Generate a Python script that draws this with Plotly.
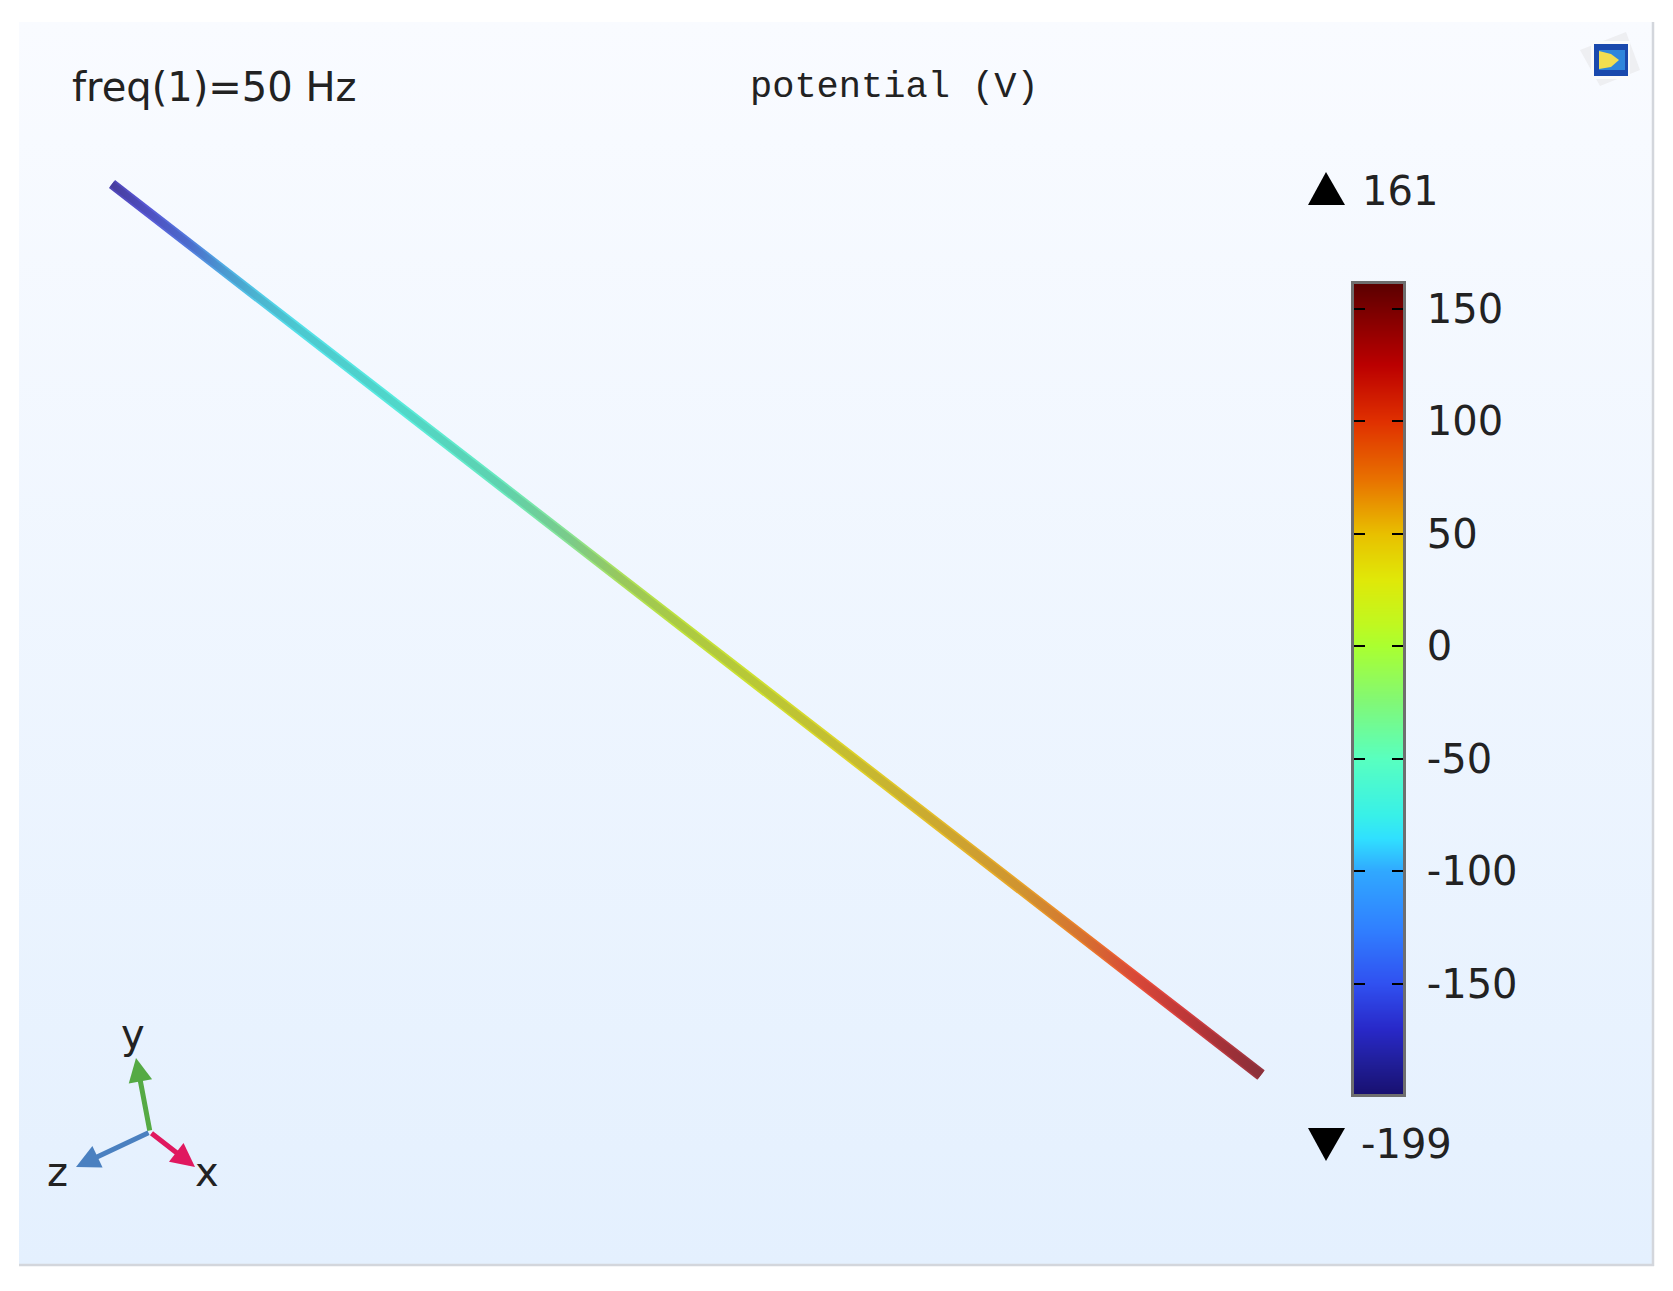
"""
plot.py - potential along a wire, freq(1)=50 Hz, drawn in a pixel-sized frame.
"""

import plotly.colors as pc
import plotly.graph_objects as go

# ---------------------------------------------------------------------------
# Data
# ---------------------------------------------------------------------------
V_MIN = -199
V_MAX = 161

WIRE_X = [112, 1261]
WIRE_Y = [184, 1075]

# potential along the wire, by horizontal position
STATION_X = [112, 150, 190, 225, 260, 300, 400, 500, 570, 620, 680, 760, 850, 950, 1020, 1080, 1133, 1180, 1230, 1261]
STATION_V = [-199, -172, -150, -120, -100, -85, -62, -40, -22, -5, 8, 22, 38, 55, 68, 85, 110, 130, 150, 161]

BAR_LEVELS = [-199, -185, -170, -150, -125, -100, -85, -75, -50, -25, 0, 10, 30, 50, 75, 100, 125, 150, 161]
BAR_COLORS = ["#181070", "#201e98", "#2828c8", "#3050f0", "#3080ff", "#30a8ff", "#30e0ff", "#38f0e8",
              "#58ffc0", "#80f878", "#aaff30", "#c0f820", "#e0e808", "#e8c000", "#e87000", "#e03000",
              "#bb0000", "#7a0000", "#5c0000"]

# the wire is lit, so it shows duller colours than the bar
LIT_LEVELS = [-199, -170, -140, -110, -85, -60, -35, -15, 0, 15, 35, 50, 70, 90, 110, 130, 150, 161]
LIT_CORE = ["#473c9c", "#5050c4", "#4a78d0", "#4aa8d0", "#4cc8d0", "#50d8c8", "#62d0a8", "#88c878", "#a0c850",
            "#b4cc38", "#c4c030", "#ccac30", "#d09030", "#d86830", "#d84838", "#c03838", "#9c3038", "#88303a"]
LIT_EDGE = ["#4e44b4", "#5a5ad8", "#5088e0", "#50bce4", "#54e0e8", "#58ecdc", "#6ce8b8", "#98e080", "#b4e048",
            "#c8e430", "#dcd828", "#e4c028", "#e8a028", "#ec7428", "#ec5038", "#d84040", "#b03840", "#943440"]

TICK_VALUES = [-150, -100, -50, 0, 50, 100, 150]
TICK_LABELS = ["-150", "-100", "-50", "0", "50", "100", "150"]

FONT = "DejaVu Sans"
INK = "#222222"
W, H = 1673, 1291


def scale_from(levels, colors):
    return [[(v - V_MIN) / (V_MAX - V_MIN), c] for v, c in zip(levels, colors)]


def wire_trace(half_start, half_end, scale):
    """Thin strip along the wire, filled with a gradient that follows the potential."""
    dx = WIRE_X[1] - WIRE_X[0]
    dy = WIRE_Y[1] - WIRE_Y[0]
    length = (dx ** 2 + dy ** 2) ** 0.5
    nx, ny = -dy / length, dx / length
    xs = [WIRE_X[0] + nx * half_start, WIRE_X[1] + nx * half_end,
          WIRE_X[1] - nx * half_end, WIRE_X[0] - nx * half_start]
    ys = [WIRE_Y[0] + ny * half_start, WIRE_Y[1] + ny * half_end,
          WIRE_Y[1] - ny * half_end, WIRE_Y[0] - ny * half_start]

    span = STATION_X[-1] - STATION_X[0]
    stops = []
    for x, v in zip(STATION_X, STATION_V):
        frac = (x - STATION_X[0]) / span
        color = pc.sample_colorscale(scale, (v - V_MIN) / (V_MAX - V_MIN))[0]
        stops.append([frac, color])

    return go.Scatter(
        x=xs + xs[:1], y=ys + ys[:1], mode="lines", fill="toself",
        line=dict(width=0), showlegend=False, hoverinfo="skip",
        fillgradient=dict(type="horizontal", colorscale=stops),
    )


def label(x, y, text, size=40, anchor="left", family=FONT):
    return dict(x=x, y=y, xref="x", yref="y", text=text, showarrow=False, xanchor=anchor, yanchor="middle",
                font=dict(family=family, size=size, color=INK))


def triad_arrow(x, y, color):
    return dict(x=x, y=y, ax=150, ay=1132, xref="x", yref="y", axref="x", ayref="y", text="", showarrow=True,
                arrowhead=2, arrowsize=0.95, arrowwidth=5, arrowcolor=color, standoff=0, startstandoff=0)


def corner_icon():
    shapes = [
        dict(type="path", path="M1580,50 L1626,32 L1640,70 L1600,86 Z", fillcolor="#eeeff2", line_width=0),
        dict(type="rect", x0=1591, x1=1630, y0=41, y1=79, fillcolor="#fbfbfb", line_width=0),
        dict(type="rect", x0=1594, x1=1628, y0=44, y1=76, fillcolor="#1a49ad", line_width=0),
        dict(type="rect", x0=1599, x1=1625, y0=50, y1=70, fillcolor="#2f86dc", line_width=0),
        dict(type="path", path="M1599,51 L1611,54 L1619,60 L1611,67 L1599,69 Z", fillcolor="#f2de50", line_width=0),
    ]
    return [dict(s, xref="x", yref="y") for s in shapes]


def build_figure():
    fig = go.Figure()

    # panel background, pale blue getting stronger towards the bottom
    fig.add_trace(go.Scatter(
        x=[19, 1653, 1653, 19, 19], y=[22, 22, 1265, 1265, 22], mode="lines", fill="toself",
        line=dict(width=0), showlegend=False, hoverinfo="skip",
        fillgradient=dict(type="vertical", colorscale=[[0, "#e4f0fe"], [1, "#f9fbff"]]),
    ))

    fig.add_trace(wire_trace(5.0, 6.0, scale_from(LIT_LEVELS, LIT_EDGE)))
    fig.add_trace(wire_trace(3.2, 4.4, scale_from(LIT_LEVELS, LIT_CORE)))

    # colour bar
    fig.add_trace(go.Heatmap(
        x=[0, 1], y=BAR_LEVELS, z=[[v, v] for v in BAR_LEVELS],
        zmin=V_MIN, zmax=V_MAX, zsmooth="best",
        colorscale=scale_from(BAR_LEVELS, BAR_COLORS),
        showscale=False, hoverinfo="skip", xaxis="x2", yaxis="y2",
    ))

    shapes = [
        dict(type="line", x0=1653, x1=1653, y0=22, y1=1266, xref="x", yref="y", line=dict(color="#d3d6dc", width=2.5)),
        dict(type="line", x0=19, x1=1654, y0=1265, y1=1265, xref="x", yref="y", line=dict(color="#d3d6dc", width=2.5)),
        dict(type="path", path="M1308,205 L1345,205 L1326,172 Z", xref="x", yref="y", fillcolor="black", line_width=0),
        dict(type="path", path="M1308,1128 L1345,1128 L1326,1161 Z", xref="x", yref="y", fillcolor="black", line_width=0),
    ] + corner_icon()

    annotations = [
        label(70, 87, "freq(1)=50 Hz", size=40),
        label(748, 87, "potential (V)", size=37, family="Liberation Mono"),
        label(1360, 191, "161"),
        label(1359, 1144, "-199"),
        triad_arrow(136, 1058, "#55aa44"),
        triad_arrow(195, 1167, "#e0185f"),
        triad_arrow(76, 1167, "#4a80c0"),
        label(133, 1034, "y", anchor="center"),
        label(207, 1172, "x", anchor="center"),
        label(57, 1172, "z", anchor="center"),
    ]

    fig.update_layout(
        width=W, height=H, margin=dict(l=0, r=0, t=0, b=0),
        paper_bgcolor="white", plot_bgcolor="white", showlegend=False,
        font=dict(family=FONT, color=INK),
        xaxis=dict(range=[0, W], domain=[0, 1], visible=False, fixedrange=True),
        yaxis=dict(range=[H, 0], domain=[0, 1], visible=False, fixedrange=True),
        xaxis2=dict(
            range=[0, 1], domain=[1354 / W, 1403 / W], anchor="y2",
            showticklabels=False, ticks="", showgrid=False, zeroline=False,
            showline=True, linecolor="#6e6e6e", linewidth=2.5, mirror=True,
        ),
        yaxis2=dict(
            range=[V_MIN, V_MAX], domain=[1 - 1094 / H, 1 - 284 / H], anchor="x2", side="right",
            tickmode="array", tickvals=TICK_VALUES, ticktext=TICK_LABELS,
            ticks="inside", ticklen=11, tickwidth=2, tickcolor="black", ticklabelstandoff=13,
            tickfont=dict(family=FONT, size=40, color=INK),
            showgrid=False, zeroline=False,
            showline=True, linecolor="#6e6e6e", linewidth=2.5, mirror="ticks",
        ),
        shapes=shapes,
        annotations=annotations,
    )
    return fig


def main():
    fig = build_figure()
    fig.write_html("out.html", config=dict(displayModeBar=False),
                   post_script="document.body.style.margin='0';")


if __name__ == "__main__":
    main()
